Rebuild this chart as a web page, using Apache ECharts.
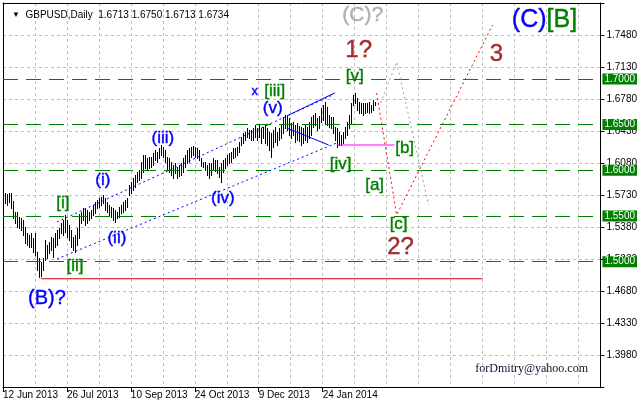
<!DOCTYPE html>
<html><head><meta charset="utf-8">
<script src="https://cdn.jsdelivr.net/npm/echarts@6/dist/echarts.min.js"></script>
<style>html,body{margin:0;padding:0;background:#fff}#c{width:640px;height:403px}</style>
</head><body><div id="c"></div>
<script>
// ---------- data ----------
const FIRST_BAR = 1;            // category index of first daily bar
const CATEGORY_COUNT = 300;
const highs = [
1.5752,1.5741,1.5752,1.5752,1.5665,1.5545,1.5545,1.5490,1.5479,1.5457,
1.5380,1.5314,1.5293,1.5314,1.5260,1.5314,1.5107,1.5041,1.4997,1.5041,
1.5238,1.5183,1.5216,1.5271,1.5260,1.5314,1.5347,1.5369,1.5424,1.5457,
1.5512,1.5457,1.5402,1.5347,1.5271,1.5293,1.5369,1.5523,1.5545,1.5588,
1.5588,1.5566,1.5545,1.5566,1.5621,1.5654,1.5676,1.5697,1.5708,1.5730,
1.5697,1.5654,1.5621,1.5599,1.5588,1.5566,1.5545,1.5599,1.5621,1.5654,
1.5676,1.5697,1.5839,1.5872,1.5916,1.5949,1.5982,1.6004,1.6091,1.6168,
1.6168,1.6135,1.6146,1.6146,1.6190,1.6223,1.6201,1.6244,1.6277,1.6255,
1.6223,1.6146,1.6135,1.6091,1.6059,1.6080,1.6037,1.6059,1.6080,1.6135,
1.6168,1.6223,1.6244,1.6255,1.6266,1.6255,1.6244,1.6223,1.6135,1.6091,
1.6091,1.6059,1.6080,1.6080,1.6135,1.6113,1.6113,1.6037,1.6080,1.6113,
1.6135,1.6168,1.6190,1.6201,1.6244,1.6244,1.6255,1.6310,1.6365,1.6408,
1.6419,1.6463,1.6441,1.6441,1.6463,1.6496,1.6463,1.6496,1.6463,1.6474,
1.6496,1.6463,1.6419,1.6408,1.6441,1.6474,1.6419,1.6463,1.6496,1.6583,
1.6605,1.6605,1.6572,1.6518,1.6529,1.6496,1.6518,1.6485,1.6474,1.6463,
1.6496,1.6474,1.6529,1.6583,1.6605,1.6627,1.6572,1.6594,1.6682,1.6714,
1.6747,1.6692,1.6605,1.6583,1.6583,1.6474,1.6463,1.6419,1.6387,1.6419,
1.6474,1.6529,1.6605,1.6736,1.6824,1.6846,1.6791,1.6747,1.6736,1.6736,
1.6736,1.6736,1.6747,1.6714,1.6769,1.6750];
const lows = [
1.5643,1.5621,1.5654,1.5588,1.5479,1.5424,1.5380,1.5369,1.5347,1.5293,
1.5205,1.5183,1.5161,1.5161,1.5107,1.5074,1.4910,1.4833,1.4844,1.4910,
1.5019,1.5041,1.5096,1.5128,1.5052,1.5161,1.5183,1.5260,1.5314,1.5293,
1.5325,1.5271,1.5238,1.5161,1.5128,1.5107,1.5183,1.5260,1.5424,1.5457,
1.5402,1.5424,1.5457,1.5479,1.5512,1.5534,1.5588,1.5599,1.5621,1.5643,
1.5566,1.5545,1.5512,1.5490,1.5457,1.5435,1.5479,1.5490,1.5534,1.5545,
1.5566,1.5599,1.5730,1.5752,1.5785,1.5817,1.5872,1.5894,1.5916,1.5982,
1.6026,1.6004,1.6026,1.6037,1.6059,1.6113,1.6091,1.6135,1.6168,1.6146,
1.6091,1.6004,1.5982,1.5949,1.5916,1.5971,1.5916,1.5938,1.5949,1.5982,
1.6037,1.6080,1.6091,1.6146,1.6168,1.6146,1.6135,1.6113,1.6048,1.6037,
1.6004,1.5949,1.5916,1.5949,1.6004,1.5993,1.5971,1.5927,1.5872,1.5982,
1.6026,1.6059,1.6080,1.6091,1.6135,1.6146,1.6168,1.6201,1.6277,1.6299,
1.6332,1.6365,1.6354,1.6332,1.6332,1.6365,1.6332,1.6365,1.6299,1.6354,
1.6299,1.6277,1.6223,1.6146,1.6255,1.6310,1.6277,1.6332,1.6354,1.6408,
1.6463,1.6441,1.6387,1.6354,1.6387,1.6310,1.6332,1.6321,1.6277,1.6299,
1.6332,1.6310,1.6354,1.6387,1.6474,1.6496,1.6441,1.6463,1.6529,1.6550,
1.6518,1.6496,1.6474,1.6463,1.6408,1.6332,1.6255,1.6277,1.6277,1.6299,
1.6354,1.6387,1.6463,1.6518,1.6714,1.6736,1.6660,1.6627,1.6627,1.6605,
1.6627,1.6638,1.6627,1.6638,1.6660,1.6713];

const xTickIdx = [0, 32, 64, 96, 128, 160];
const xTickLabels = ['12 Jun 2013','26 Jul 2013','10 Sep 2013','24 Oct 2013','9 Dec 2013','24 Jan 2014'];
const yTickLabels = ['1.3980','1.4330','1.4680','1.5030','1.5380','1.5730','1.6080','1.6430','1.6780','1.7130','1.7480'];
const levels = [1.7000, 1.6500, 1.6000, 1.5500, 1.5000];

const blueText  = ['(i)','(ii)','(iii)','(iv)','(v)'];
const blueIdx   = [50, 57, 80, 110, 135];
const bluePrice = [1.5894, 1.5260, 1.6353, 1.5697, 1.6682];
const xMarkIdx = 126, xMarkPrice = 1.6867;
const bText = '(B)?', bIdx = 22, bPrice = 1.4593;

const greenText  = ['[i]','[ii]','[iii]','[iv]','[v]','[a]','[b]','[c]'];
const greenIdx   = [30, 36, 136, 169, 176, 186, 201, 198];
const greenPrice = [1.5643, 1.4953, 1.6867, 1.6069, 1.7032, 1.5839, 1.6244, 1.5413];

const redText  = ['1?','2?','3'];
const redIdx   = [178, 199, 247];
const redPrice = [1.7316, 1.5161, 1.7272];

const grayText = '(C)?', grayIdx = 180, grayPrice = 1.7699;
const cornerIdx = 271, cornerPrice = 1.7644;

const channelUpper = [[27, 1.5435], [165, 1.6824]];
const channelLower = [[27, 1.5030], [167, 1.6299]];
const wedgeUpper   = [[142, 1.6594], [166, 1.6846]];
const wedgeLower   = [[142, 1.6463], [163, 1.6277]];
const magentaLine  = [[167, 1.6277], [196, 1.6277]];
const redPath      = [[187, 1.6846], [197, 1.5512], [245, 1.7589]];
const grayPath     = [[189, 1.6736], [197, 1.7185], [213, 1.5621]];
const supportLine  = [[19, 1.4814], [240, 1.4814]];

// ---------- chart ----------
const FONT = "'Liberation Sans', Arial, sans-serif";
const categories = Array.from({length: CATEGORY_COUNT}, (_, i) => String(i));
const barData = highs.map((h, i) => [i + FIRST_BAR, h, lows[i]]);

function textItems(texts, idx, prices) {
  return texts.map((t, i) => ({ name: t, value: [idx[i], prices[i]] }));
}
function textSeries(items, color, size) {
  return {
    type: 'scatter', symbolSize: 1, silent: true, z: 10,
    itemStyle: { color: color, opacity: 0 },
    label: { show: true, position: 'inside', formatter: p => p.name, opacity: 1,
             color: color, fontSize: size, fontFamily: FONT,
             textBorderColor: color, textBorderWidth: 0.4 },
    data: items
  };
}
function lineSeries(data, color, type) {
  return {
    type: 'line', data: data, symbol: 'none', silent: true, z: 5,
    lineStyle: { color: color, width: 1, type: type }
  };
}

const chart = echarts.init(document.getElementById('c'), null, { renderer: 'canvas' });
chart.setOption({
  animation: false,
  backgroundColor: '#fff',
  title: {
    text: '{t|▼}  GBPUSD,Daily  1.6713 1.6750 1.6713 1.6734',
    left: 7, top: 5,
    textStyle: { fontSize: 10, fontWeight: 'normal', color: '#000', fontFamily: FONT,
                 rich: { t: { fontSize: 8, color: '#000' } } }
  },
  grid: { left: 3, top: 3, right: 38, height: 384 },
  xAxis: [{
    type: 'category', data: categories, boundaryGap: false,
    axisLine: { lineStyle: { color: '#000', width: 1 } },
    axisTick: { show: true, interval: i => xTickIdx.includes(i), length: 5, lineStyle: { color: '#000' } },
    axisLabel: { interval: i => xTickIdx.includes(i), align: 'left', margin: 3,
                 formatter: (v, i) => { const k = xTickIdx.indexOf(Number(v)); return k >= 0 ? xTickLabels[k] : ''; },
                 color: '#000', fontSize: 10, fontFamily: FONT },
    splitLine: { show: true, interval: i => i > 0 && i % 16 === 0,
                 lineStyle: { color: '#c0c0c0', type: [3, 3] } }
  }, {
    type: 'category', data: categories, boundaryGap: false, position: 'top',
    axisLine: { lineStyle: { color: '#000' } }, axisTick: { show: false }, axisLabel: { show: false }, splitLine: { show: false }
  }],
  yAxis: [{
    type: 'value', position: 'right', min: 1.363, max: 1.783, interval: 0.035, scale: true,
    axisLine: { show: true, lineStyle: { color: '#000' } },
    axisTick: { show: true, length: 4, lineStyle: { color: '#000' } },
    axisLabel: { margin: 6, color: '#000', fontSize: 10, fontFamily: FONT,
                 formatter: v => { const s = v.toFixed(4); return yTickLabels.includes(s) ? s : ''; } },
    splitLine: { show: true, lineStyle: { color: '#c0c0c0', type: [3, 3] } }
  }, {
    type: 'value', position: 'left', min: 1.363, max: 1.783, scale: true,
    axisLine: { show: true, lineStyle: { color: '#000' } }, axisTick: { show: false }, axisLabel: { show: false }, splitLine: { show: false }
  }],
  series: [
    Object.assign(lineSeries(supportLine, '#d00000', 'solid'), {
      markLine: {
        silent: true, symbol: ['none', 'none'], animation: false,
        lineStyle: { color: '#008000', width: 1, type: [15, 8] },
        label: { show: true, position: 'end', distance: 2,
                 formatter: p => Number(p.value).toFixed(4),
                 color: '#fff', backgroundColor: '#008000', padding: [1, 2, 0, 2],
                 fontSize: 10, fontFamily: FONT },
        data: levels.map(v => ({ yAxis: v }))
      }
    }),
    {
      type: 'custom', data: barData, silent: true, z: 4,
      renderItem: (params, api) => {
        const top = api.coord([api.value(0), api.value(1)]);
        const bot = api.coord([api.value(0), api.value(2)]);
        const px = Math.round(top[0]) + 0.5;
        return { type: 'line', shape: { x1: px, y1: Math.round(top[1]), x2: px, y2: Math.round(bot[1]) + 1 },
                 style: { stroke: '#000', lineWidth: 1 } };
      }
    },
    lineSeries(channelUpper, '#0000ff', [2, 3]),
    lineSeries(channelLower, '#0000ff', [2, 3]),
    lineSeries(wedgeUpper, '#0000ff', 'solid'),
    lineSeries(wedgeLower, '#0000ff', 'solid'),
    lineSeries(magentaLine, '#ff00ff', 'solid'),
    lineSeries(redPath, '#ff0000', [2, 3]),
    lineSeries(grayPath, '#a0a0a0', [2, 3]),
    textSeries(textItems(blueText, blueIdx, bluePrice), '#0000ff', 17),
    textSeries([{ name: 'x', value: [xMarkIdx, xMarkPrice] }], '#0000ff', 13),
    textSeries([{ name: bText, value: [bIdx, bPrice] }], '#0000ff', 20),
    textSeries(textItems(greenText, greenIdx, greenPrice), '#008000', 17),
    textSeries(textItems(redText, redIdx, redPrice), '#a52a2a', 24),
    textSeries([{ name: grayText, value: [grayIdx, grayPrice] }], '#b0b0b0', 21),
    {
      type: 'scatter', symbolSize: 1, silent: true, z: 10, itemStyle: { color: '#fff', opacity: 0 },
      label: { show: true, position: 'inside', formatter: '{c|(C)}{b|[B]}', fontFamily: FONT, opacity: 1,
               rich: { c: { color: '#0000ff', fontSize: 25, fontFamily: FONT, textBorderColor: '#0000ff', textBorderWidth: 0.4 },
                       b: { color: '#008000', fontSize: 25, fontFamily: FONT, textBorderColor: '#008000', textBorderWidth: 0.4 } } },
      data: [{ name: '(C)[B]', value: [cornerIdx, cornerPrice] }]
    }
  ],
  graphic: [{
    type: 'text', right: 52, top: 363, silent: true,
    style: { text: 'forDmitry@yahoo.com', font: "12px 'Liberation Serif', 'Times New Roman', serif", fill: '#101030' }
  }]
});
</script>
</body></html>
